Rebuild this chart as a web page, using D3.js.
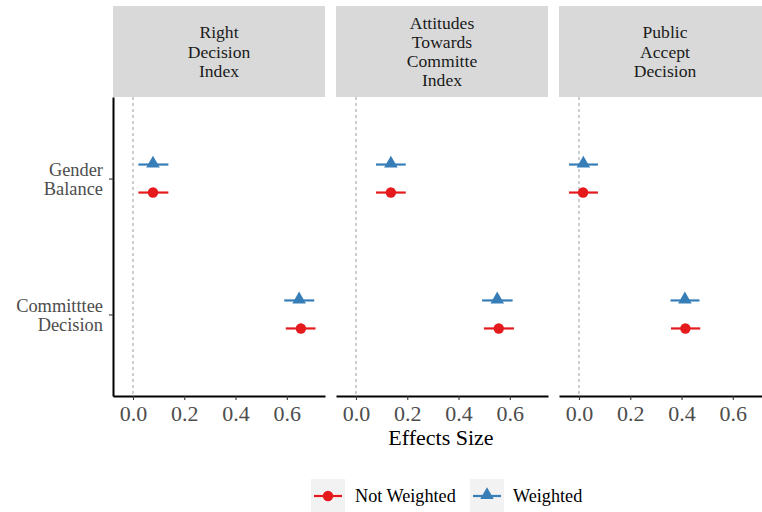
<!DOCTYPE html>
<html><head><meta charset="utf-8">
<script src="https://cdn.jsdelivr.net/npm/d3@7"></script>
<style>body{margin:0;background:#fff}svg{display:block}</style>
</head><body>
<svg id="chart" width="762" height="512"></svg>
<script>
const facets = [["Right","Decision","Index"],["Attitudes","Towards","Committe","Index"],["Public","Accept","Decision"]];
const terms = ["Gender Balance","Committtee Decision"];
const termLines = [["Gender","Balance"],["Committtee","Decision"]];
const seriesNames = ["Not Weighted","Weighted"];
const xTicks = [0,0.2,0.4,0.6];
// estimate per facet per term: [Gender Balance, Committtee Decision]
const estNot = [[0.078,0.655],[0.136,0.557],[0.016,0.415]];
const loNot  = [[0.021,0.596],[0.078,0.499],[-0.039,0.359]];
const hiNot  = [[0.138,0.712],[0.194,0.616],[0.074,0.473]];
const estW   = [[0.078,0.648],[0.136,0.551],[0.017,0.413]];
const loW    = [[0.021,0.590],[0.078,0.492],[-0.039,0.357]];
const hiW    = [[0.138,0.707],[0.194,0.611],[0.074,0.470]];
const colors = ["#E41A1C","#377EB8"];

const svg = d3.select("#chart");
const font = "'Liberation Serif','Times New Roman',serif";
const panelLeft = [113,336,559], panelW = 212;
const stripTop = 6, panelTop = 97, panelBottom = 396;
const y = d3.scalePoint().domain(terms).range([panelTop,panelBottom]).padding(0.6);
const dodge = 14;

facets.forEach((lab,fi)=>{
  const x0 = panelLeft[fi];
  const x = d3.scaleLinear().domain([-0.078,0.749]).range([x0,x0+panelW]);
  const g = svg.append("g");
  // strip
  g.append("rect").attr("x",x0).attr("y",stripTop).attr("width",panelW).attr("height",panelTop-stripTop).attr("fill","#d9d9d9");
  const lh = 19.3, cy = (stripTop+panelTop)/2;
  const t = g.append("text").attr("text-anchor","middle").attr("font-family",font).attr("font-size",17.6).attr("fill","#1a1a1a");
  lab.forEach((s,i)=>{
    t.append("tspan").attr("x",x0+panelW/2).attr("y",cy+(i-(lab.length-1)/2)*lh+6).text(s);
  });
  // zero line
  g.append("line").attr("x1",x(0)).attr("x2",x(0)).attr("y1",panelTop).attr("y2",panelBottom)
    .attr("stroke","#a6a6a6").attr("stroke-width",1.1).attr("stroke-dasharray","3,3");
  // x axis
  const ax = g.append("g").attr("transform",`translate(0,${panelBottom})`)
    .call(d3.axisBottom(x).tickValues(xTicks).tickFormat(d3.format(".1f")).tickSize(4).tickSizeOuter(0));
  ax.select(".domain").attr("stroke","#000").attr("stroke-width",2);
  ax.selectAll(".tick line").attr("stroke","#333").attr("stroke-width",1.1);
  ax.selectAll(".tick text").attr("font-family",font).attr("font-size",22).attr("fill","#4d4d4d").attr("y",24.7).attr("dy",0);
  // y axis on first panel
  if(fi===0){
    const ay = g.append("g").attr("transform",`translate(${x0},0)`)
      .call(d3.axisLeft(y).tickSize(4).tickSizeOuter(0).tickFormat(""));
    ay.select(".domain").attr("stroke","#000").attr("stroke-width",2);
    ay.selectAll(".tick line").attr("stroke","#333").attr("stroke-width",1.1);
    terms.forEach((tm,ti)=>{
      const tt = g.append("text").attr("text-anchor","end").attr("font-family",font).attr("font-size",18.4).attr("fill","#4d4d4d");
      termLines[ti].forEach((s,i)=>{
        tt.append("tspan").attr("x",x0-10).attr("y",y(tm)+(i-0.5)*19+6.8).text(s);
      });
    });
  }
  // data
  const series = [
    {est:estNot[fi],lo:loNot[fi],hi:hiNot[fi],off:dodge,col:colors[0],shape:"circle"},
    {est:estW[fi],lo:loW[fi],hi:hiW[fi],off:-dodge,col:colors[1],shape:"tri"}
  ];
  series.forEach(s=>{
    terms.forEach((tm,ti)=>{
      const yy = y(tm)+s.off;
      g.append("line").attr("x1",x(s.lo[ti])).attr("x2",x(s.hi[ti])).attr("y1",yy).attr("y2",yy)
        .attr("stroke",s.col).attr("stroke-width",2.2);
      if(s.shape==="circle"){
        g.append("circle").attr("cx",x(s.est[ti])).attr("cy",yy).attr("r",5.2).attr("fill",s.col);
      } else {
        g.append("path").attr("d",d3.symbol(d3.symbolTriangle,80)()).attr("transform",`translate(${x(s.est[ti])},${yy-1})`).attr("fill",s.col);
      }
    });
  });
});

// x title
svg.append("text").attr("x",441).attr("y",445).attr("text-anchor","middle")
  .attr("font-family",font).attr("font-size",22).attr("fill","#000").text("Effects Size");

// legend
const leg = svg.append("g");
const keyX = [311,470], textX = [355,513], keyY = 479, keyS = 34;
seriesNames.forEach((n,i)=>{
  leg.append("rect").attr("x",keyX[i]).attr("y",keyY).attr("width",keyS).attr("height",keyS).attr("fill","#f2f2f2");
  const cy = keyY+keyS/2;
  leg.append("line").attr("x1",keyX[i]+3).attr("x2",keyX[i]+keyS-3).attr("y1",cy).attr("y2",cy).attr("stroke",colors[i]).attr("stroke-width",2.2);
  if(i===0) leg.append("circle").attr("cx",keyX[i]+keyS/2).attr("cy",cy).attr("r",5.2).attr("fill",colors[i]);
  else leg.append("path").attr("d",d3.symbol(d3.symbolTriangle,80)()).attr("transform",`translate(${keyX[i]+keyS/2},${cy-1})`).attr("fill",colors[i]);
  leg.append("text").attr("x",textX[i]).attr("y",cy+6).attr("font-family",font).attr("font-size",18.2).attr("fill","#000").text(n);
});
</script>
</body></html>
